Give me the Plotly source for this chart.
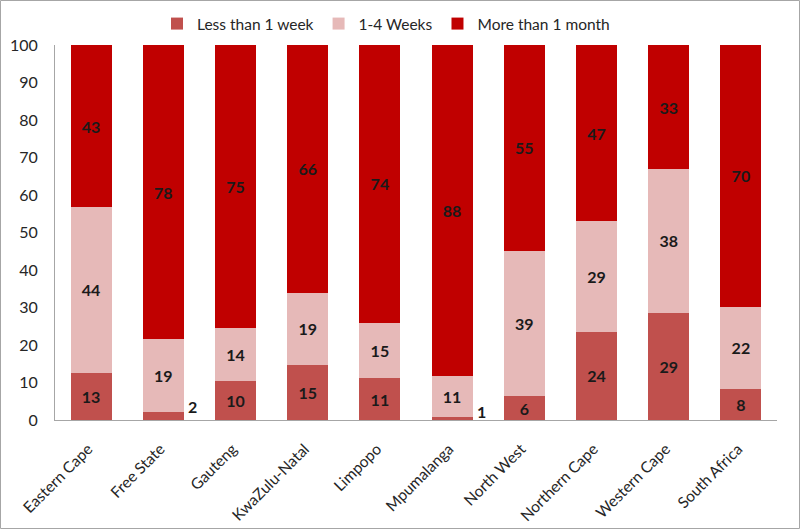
import plotly.graph_objects as go

categories = ["Eastern Cape", "Free State", "Gauteng", "KwaZulu-Natal", "Limpopo",
              "Mpumalanga", "North West", "Northern Cape", "Western Cape", "South Africa"]
less_1_week = [12.6, 2.1, 10.4, 14.7, 11.2, 0.8, 6.3, 23.6, 28.6, 8.3]
weeks_1_4 = [44.2, 19.4, 14.2, 19.3, 14.8, 10.9, 38.9, 29.4, 38.3, 21.9]
more_1_month = [43.2, 78.5, 75.4, 66.0, 74.0, 88.3, 54.8, 47.0, 33.1, 69.8]
y_ticks = [0, 10, 20, 30, 40, 50, 60, 70, 80, 90, 100]

series = [
    ("Less than 1 week", less_1_week, "#C0504D"),
    ("1-4 Weeks", weeks_1_4, "#E6B9B8"),
    ("More than 1 month", more_1_month, "#C00000"),
]

FONT = "Lato, Open Sans, sans-serif"
W, H = 800, 529
ML, MR, MT, MB = 55, 23, 45, 109

fig = go.Figure()
annotations = []
for name, vals, col in series:
    texts = []
    for c, v in zip(categories, vals):
        if v < 3:
            texts.append("")
            annotations.append(dict(x=c, y=v, xref="x", yref="y", text="<b>%d</b>" % round(v),
                                    showarrow=False, xshift=29, yshift=6,
                                    font=dict(family=FONT, size=16, color="#1a1a1a")))
        else:
            texts.append("<b>%d</b>" % round(v))
    fig.add_trace(go.Bar(
        name=name, x=categories, y=vals, marker=dict(color=col, line=dict(width=0)),
        text=texts, textposition="inside", insidetextanchor="middle", textangle=0,
        constraintext="none",
        textfont=dict(family=FONT, size=16, color="#1a1a1a"),
        hoverinfo="x+y+name",
    ))

pw = W - ML - MR
ph = H - MT - MB
fig.add_shape(type="rect", xref="paper", yref="paper",
              x0=(0.5 - ML) / pw, x1=(W - 0.5 - ML) / pw,
              y0=-(H - 0.5 - MT - ph) / ph, y1=(MT - 0.5) / ph + 1,
              line=dict(color="#A6A6A6", width=1), fillcolor="rgba(0,0,0,0)", layer="below")

fig.update_layout(
    width=W, height=H, barmode="stack", bargap=0.43,
    margin=dict(l=ML, r=MR, t=MT, b=MB, pad=0, autoexpand=False),
    paper_bgcolor="white", plot_bgcolor="white",
    font=dict(family=FONT, size=16, color="#262626"),
    legend=dict(orientation="h", x=(386 - ML) / pw, xanchor="center",
                y=(ph + MT - 24) / ph, yanchor="middle",
                font=dict(size=15.5, color="#262626"), traceorder="normal",
                itemwidth=30, bgcolor="rgba(0,0,0,0)"),
    annotations=annotations,
    xaxis=dict(showline=True, linecolor="#A6A6A6", linewidth=1, tickangle=-45,
               ticks="", tickfont=dict(size=15.5, color="#262626"), showgrid=False,
               automargin=False, ticklabelshift=-3, ticklabelstandoff=13),
    yaxis=dict(range=[0, 100], tickvals=y_ticks, showline=True, linecolor="#A6A6A6",
               linewidth=1, ticks="", showgrid=False, zeroline=False, automargin=False,
               tickfont=dict(size=16, color="#262626"), ticklabelstandoff=13),
)

fig.write_html("out.html", config={"displayModeBar": False},
               post_script="document.body.style.margin='0';document.body.style.overflow='hidden';")
